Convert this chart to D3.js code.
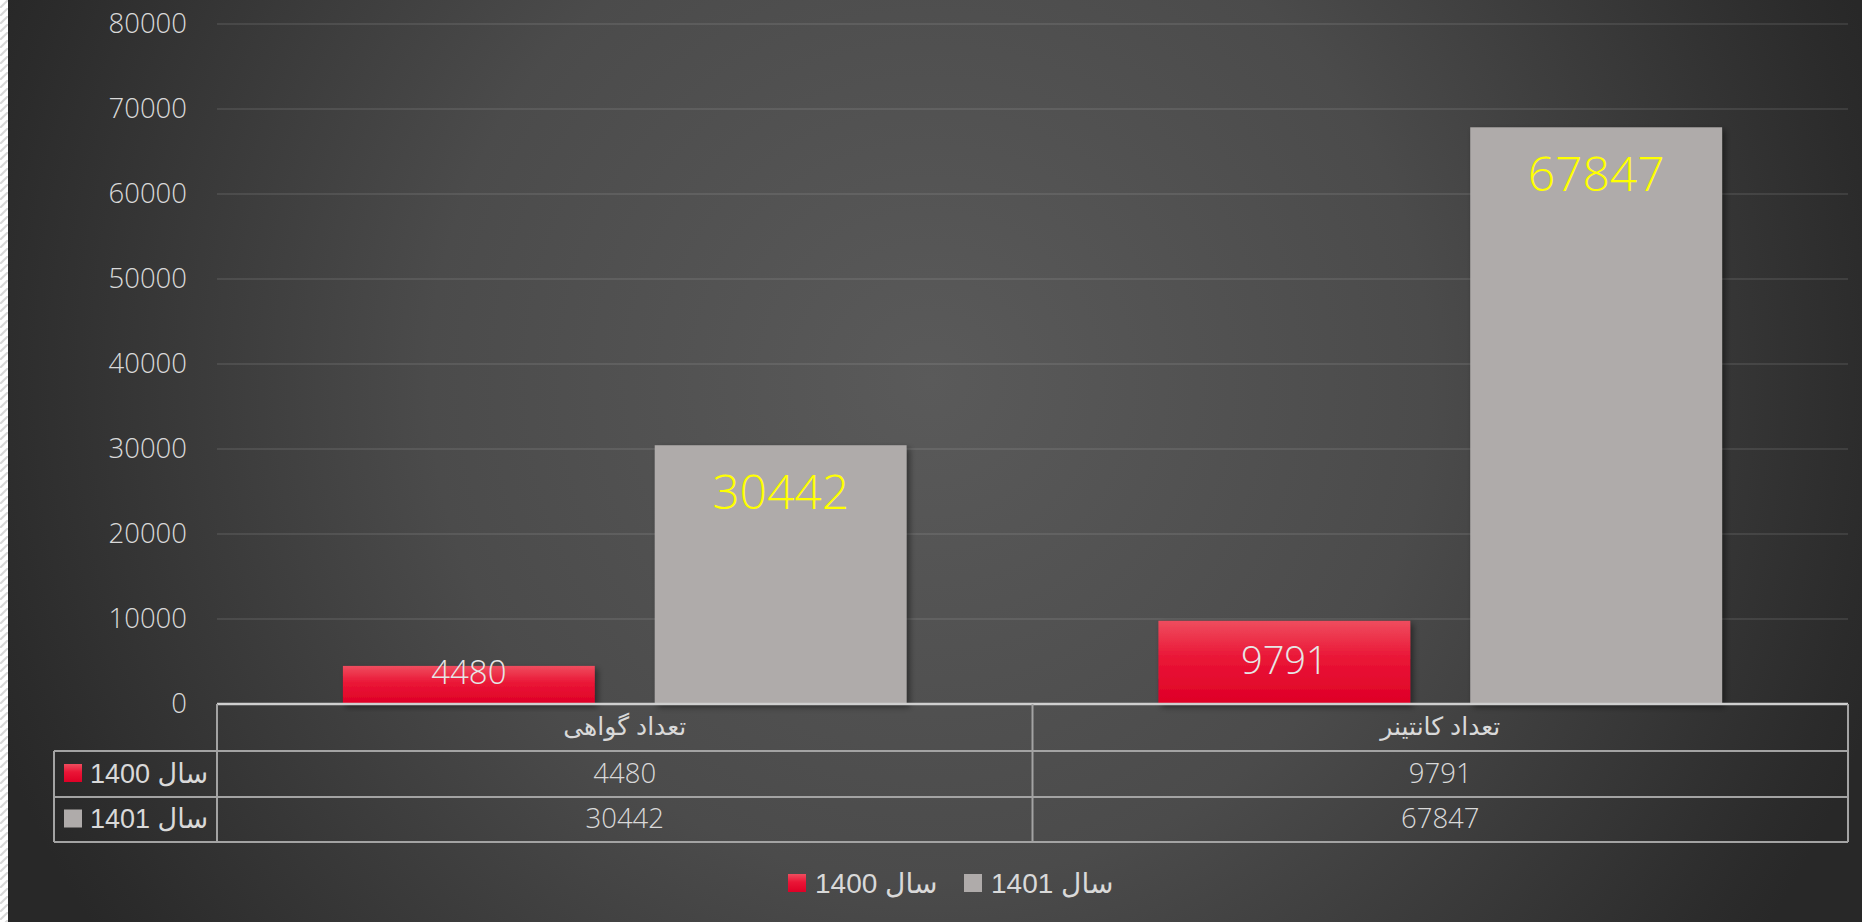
<!DOCTYPE html>
<html>
<head>
<meta charset="utf-8">
<script src="https://cdn.jsdelivr.net/npm/d3@7"></script>
<style>
  html, body { margin: 0; padding: 0; background: #ffffff; overflow: hidden; }
  svg { display: block; }
</style>
</head>
<body>
<script>

// ----- data ----- //
var categories = ["تعداد گواهی", "تعداد کانتینر"]
var seriesNames = ["سال 1400", "سال 1401"]
var values1400 = [4480, 9791]
var values1401 = [30442, 67847]
var yTicks = [0, 10000, 20000, 30000, 40000, 50000, 60000, 70000, 80000]

var seriesColors = ["url(#redGrad)", "#afabaa"]
var labelColors = ["#e6e6e6", "#ffff00"]

var allSeries = [values1400, values1401]

// ----- svg ----- //
var W = 1862, H = 922
var svg = d3.select("body")
    .append("svg")
    .attr("width", W)
    .attr("height", H)

var defs = svg.append("defs")

var bg = defs.append("radialGradient")
    .attr("id", "bgGrad")
    .attr("gradientUnits", "userSpaceOnUse")
    .attr("cx", 930).attr("cy", 380).attr("r", 1000)
bg.append("stop").attr("offset", "0").attr("stop-color", "#5a5a5a")
bg.append("stop").attr("offset", "0.5").attr("stop-color", "#4b4b4b")
bg.append("stop").attr("offset", "0.95").attr("stop-color", "#2b2b2b")
bg.append("stop").attr("offset", "1").attr("stop-color", "#282828")

var red = defs.append("linearGradient")
    .attr("id", "redGrad")
    .attr("x1", 0).attr("y1", 0).attr("x2", 0).attr("y2", 1)
red.append("stop").attr("offset", "0").attr("stop-color", "#ef4d5e")
red.append("stop").attr("offset", "0.45").attr("stop-color", "#ea1536")
red.append("stop").attr("offset", "1").attr("stop-color", "#de0026")

var hatch = defs.append("pattern")
    .attr("id", "hatch")
    .attr("patternUnits", "userSpaceOnUse")
    .attr("width", 8).attr("height", 8)
hatch.append("rect").attr("width", 8).attr("height", 8).attr("fill", "#ffffff")
hatch.append("path").attr("d", "M0,8 L8,0").attr("stroke", "#d8d8d8").attr("stroke-width", 2)

var shadow = defs.append("filter")
    .attr("id", "shadow")
    .attr("x", "-10%").attr("y", "-10%").attr("width", "130%").attr("height", "130%")
shadow.append("feDropShadow")
    .attr("dx", 3).attr("dy", 3).attr("stdDeviation", 3)
    .attr("flood-color", "#000").attr("flood-opacity", 0.45)

// background + left strip
svg.append("rect").attr("x", 0).attr("y", 0).attr("width", 8).attr("height", H).attr("fill", "url(#hatch)")
svg.append("rect").attr("x", 8).attr("y", 0).attr("width", W - 8).attr("height", H).attr("fill", "url(#bgGrad)")

// ----- scales ----- //
var plotLeft = 217, plotRight = 1848, plotTop = 24, plotBottom = 704

var x0 = d3.scaleBand()
    .domain(categories)
    .range([plotLeft, plotRight])

var x1 = d3.scaleBand()
    .domain([0, 1])
    .range([0, x0.bandwidth()])
    .paddingInner(60 / 312)
    .paddingOuter(126 / 312)

var y = d3.scaleLinear()
    .domain([0, 80000])
    .range([plotBottom, plotTop])

// gridlines
svg.append("g")
    .selectAll("line")
    .data(yTicks.filter(function (d) { return d > 0 }))
    .enter()
    .append("line")
    .attr("x1", plotLeft).attr("x2", plotRight)
    .attr("y1", function (d) { return y(d) }).attr("y2", function (d) { return y(d) })
    .attr("stroke", "rgba(217,217,217,0.11)")
    .attr("stroke-width", 2)

// y axis
var yAxis = svg.append("g")
    .attr("transform", "translate(" + plotLeft + ",0)")
    .call(d3.axisLeft(y).tickValues(yTicks).tickSize(0).tickPadding(30).tickFormat(d3.format("d")))
yAxis.select(".domain").remove()
yAxis.selectAll("text")
    .attr("fill", "#d9d9d9")
    .style("font-family", "'Open Sans', 'DejaVu Sans', sans-serif")
    .style("font-weight", 300)
    .style("font-size", "27.5px")

// ----- bars ----- //
var groups = svg.selectAll(".cat")
    .data(categories)
    .enter()
    .append("g")
    .attr("class", "cat")
    .attr("transform", function (d) { return "translate(" + x0(d) + ",0)" })

var barData = function (d, ci) {
    return allSeries.map(function (s, si) { return { si: si, v: s[ci] } })
}

groups.selectAll(".bar")
    .data(barData)
    .enter()
    .append("rect")
    .attr("class", "bar")
    .attr("x", function (d) { return x1(d.si) })
    .attr("y", function (d) { return y(d.v) })
    .attr("width", x1.bandwidth())
    .attr("height", function (d) { return y(0) - y(d.v) })
    .attr("fill", function (d) { return seriesColors[d.si] })
    .attr("filter", "url(#shadow)")

// data labels (inside end)
groups.selectAll(".lbl")
    .data(barData)
    .enter()
    .append("text")
    .attr("class", "lbl")
    .attr("x", function (d) { return x1(d.si) + x1.bandwidth() / 2 })
    .attr("y", function (d) {
        var top = y(d.v), h = y(0) - y(d.v)
        var off = d.si === 1 ? 46 : 40
        if (h < 2 * off) return top + h * 0.15
        return top + off
    })
    .attr("dy", "0.36em")
    .attr("text-anchor", "middle")
    .attr("fill", function (d) { return labelColors[d.si] })
    .style("font-family", "'Open Sans', 'DejaVu Sans', sans-serif")
    .style("font-weight", 300)
    .style("font-size", function (d) {
        var h = y(0) - y(d.v)
        if (d.si === 1) return "48px"
        return h < 80 ? "33px" : "38px"
    })
    .text(function (d) { return d.v })

// ----- data table ----- //
var rowTops = [704, 751, 797, 842]
var tableLeft = 54
var lineColor = "#a3a3a3"
var table = svg.append("g")

// horizontal lines
table.append("line")
    .attr("x1", plotLeft).attr("x2", plotRight).attr("y1", rowTops[0]).attr("y2", rowTops[0])
    .attr("stroke", "#cfcfcf").attr("stroke-width", 2.5)
table.selectAll(".hl")
    .data(rowTops.slice(1))
    .enter()
    .append("line")
    .attr("class", "hl")
    .attr("x1", tableLeft).attr("x2", plotRight)
    .attr("y1", function (d) { return d }).attr("y2", function (d) { return d })
    .attr("stroke", lineColor).attr("stroke-width", 2)

// vertical lines
var vLines = [plotLeft].concat(categories.map(function (c) { return x0(c) + x0.bandwidth() }))
table.selectAll(".vl")
    .data(vLines)
    .enter()
    .append("line")
    .attr("class", "vl")
    .attr("x1", function (d) { return d }).attr("x2", function (d) { return d })
    .attr("y1", rowTops[0]).attr("y2", rowTops[3])
    .attr("stroke", lineColor).attr("stroke-width", 2)
table.append("line")
    .attr("x1", tableLeft).attr("x2", tableLeft).attr("y1", rowTops[1]).attr("y2", rowTops[3])
    .attr("stroke", lineColor).attr("stroke-width", 2)

// header row
table.selectAll(".hdr")
    .data(categories)
    .enter()
    .append("text")
    .attr("class", "hdr")
    .attr("x", function (d) { return x0(d) + x0.bandwidth() / 2 })
    .attr("y", (rowTops[0] + rowTops[1]) / 2)
    .attr("dy", "0.3em")
    .attr("text-anchor", "middle")
    .attr("fill", "#d9d9d9")
    .style("font-family", "'Liberation Sans', 'DejaVu Sans', sans-serif")
    .style("font-size", "25px")
    .text(function (d) { return d })

// value rows
allSeries.forEach(function (s, si) {
    var cy = (rowTops[si + 1] + rowTops[si + 2]) / 2 - 1
    table.selectAll(".v" + si)
        .data(s)
        .enter()
        .append("text")
        .attr("class", "v" + si)
        .attr("x", function (d, i) { return x0(categories[i]) + x0.bandwidth() / 2 })
        .attr("y", cy)
        .attr("dy", "0.36em")
        .attr("text-anchor", "middle")
        .attr("fill", "#d9d9d9")
        .style("font-family", "'Open Sans', 'DejaVu Sans', sans-serif")
        .style("font-weight", 300)
        .style("font-size", "27.5px")
        .text(function (d) { return d })

    table.append("rect")
        .attr("x", 64).attr("y", cy - 9)
        .attr("width", 18).attr("height", 18)
        .attr("fill", seriesColors[si])
    table.append("text")
        .attr("x", 90).attr("y", cy)
        .attr("dy", "0.36em")
        .attr("fill", "#d9d9d9")
        .style("font-family", "'Liberation Sans', 'DejaVu Sans', sans-serif")
        .style("font-size", "27px")
        .text(seriesNames[si])
})

// ----- legend ----- //
var legend = svg.append("g")
    .attr("transform", "translate(788,883)")

var items = legend.selectAll(".item")
    .data(seriesNames)
    .enter()
    .append("g")
    .attr("class", "item")
    .attr("transform", function (d, i) { return "translate(" + (i * 176) + ",0)" })

items.append("rect")
    .attr("x", 0).attr("y", -9)
    .attr("width", 18).attr("height", 18)
    .attr("fill", function (d, i) { return seriesColors[i] })

items.append("text")
    .attr("x", 27).attr("y", 0)
    .attr("dy", "0.36em")
    .attr("fill", "#d9d9d9")
    .style("font-family", "'Liberation Sans', 'DejaVu Sans', sans-serif")
    .style("font-size", "28px")
    .text(function (d) { return d })

</script>
</body>
</html>
